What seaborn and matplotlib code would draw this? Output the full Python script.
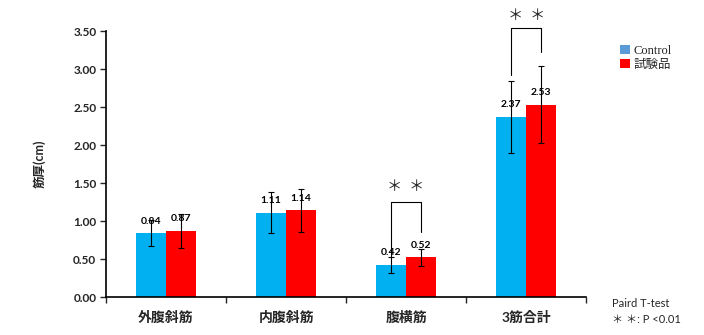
import matplotlib
matplotlib.use("Agg")
import matplotlib.pyplot as plt
import seaborn as sns
import pandas as pd
import numpy as np
from matplotlib.patches import Patch

categories = ["外腹斜筋", "内腹斜筋", "腹横筋", "3筋合計"]
groups = ["Control", "試験品"]
control_vals = [0.84, 1.11, 0.42, 2.37]
test_vals = [0.87, 1.14, 0.52, 2.53]
control_err = [0.17, 0.27, 0.11, 0.47]
test_err = [0.22, 0.28, 0.11, 0.51]
yticks = [0.0, 0.5, 1.0, 1.5, 2.0, 2.5, 3.0, 3.5]

sns.set_theme(style="white")
plt.rcParams['font.family'] = ['Lato', 'Noto Sans CJK JP', 'DejaVu Sans']

df = pd.DataFrame({
    "cat": categories * 2,
    "group": [groups[0]] * 4 + [groups[1]] * 4,
    "val": control_vals + test_vals,
})

fig = plt.figure(figsize=(7.04, 3.35), dpi=100)
ax = fig.add_axes([0.1506, 0.1134, 0.682, 0.794])

colors = {"Control": "#00B0F0", "試験品": "#FF0000"}
sns.barplot(data=df, x="cat", y="val", hue="group", order=categories,
            hue_order=groups, palette=colors, width=0.5, errorbar=None,
            saturation=1, ax=ax, legend=False, linewidth=0)

patches = [p for p in ax.patches if p.get_width() > 0]
patches = sorted(patches, key=lambda p: p.get_x())
vals_all = []
errs_all = []
for i in range(len(categories)):
    vals_all += [control_vals[i], test_vals[i]]
    errs_all += [control_err[i], test_err[i]]
xs = [p.get_x() + p.get_width() / 2 for p in patches]
ax.errorbar(xs, vals_all, yerr=errs_all, fmt="none", ecolor="black",
            elinewidth=0.8, capsize=2.5, capthick=0.8, zorder=5)
for x, v in zip(xs, vals_all):
    ax.text(x, v + 0.1, f"{v:.2f}", ha="center", va="bottom",
            fontsize=7.5, fontweight="bold", color="black", zorder=6)

def bracket(i, top, left_bot, right_bot, star_y):
    xl = xs[2 * i]
    xr = xs[2 * i + 1]
    ax.plot([xl, xl, xr, xr], [left_bot, top, top, right_bot],
            color="black", lw=0.8, clip_on=False, zorder=6)
    ax.text((xl + xr) / 2, star_y, "＊  ＊", ha="center", va="center",
            fontsize=11, clip_on=False, family=["Noto Sans CJK JP"])

bracket(2, 1.25, 0.53, 0.85, 1.45)
bracket(3, 3.54, 2.92, 3.22, 3.71)

ax.set_xlim(-0.5, 3.5)
ax.set_ylim(0, 3.5)
ax.set_yticks(yticks)
ax.set_yticklabels([f"{t:.2f}" for t in yticks], fontsize=8.5, fontweight="bold")
ax.set_xticks(range(len(categories)))
ax.set_xticklabels(categories, fontsize=10, fontweight="bold")
ax.set_xticks(np.arange(-0.5, 4.0, 1.0), minor=True)
ax.tick_params(axis="x", which="major", length=0, pad=10)
ax.tick_params(axis="x", which="minor", length=4, width=1, direction="out", bottom=True)
ax.tick_params(axis="y", length=4, width=1, direction="out", left=True, pad=3)
ax.set_xlabel("")
ax.set_ylabel("筋厚(cm)", fontsize=9, fontweight="bold", labelpad=20)
for s in ["top", "right"]:
    ax.spines[s].set_visible(False)
for s in ["left", "bottom"]:
    ax.spines[s].set_color("black")
    ax.spines[s].set_linewidth(1.2)

handles = [Patch(facecolor="#5B9BD5", edgecolor="none"),
           Patch(facecolor="#FF0000", edgecolor="none")]
fig.legend(handles, groups, loc="upper left", bbox_to_anchor=(0.865, 0.9),
           frameon=False, handlelength=0.8, handleheight=0.8,
           handletextpad=0.3, labelspacing=0.15,
           prop={"family": ["Liberation Serif", "Noto Sans CJK JP"], "size": 9})

fig.text(0.869, 0.095, "Paird T-test", fontsize=8, va="center")
fig.text(0.869, 0.045, "＊ ＊: P <0.01", fontsize=8, va="center")

fig.savefig("out.png", dpi=100)
